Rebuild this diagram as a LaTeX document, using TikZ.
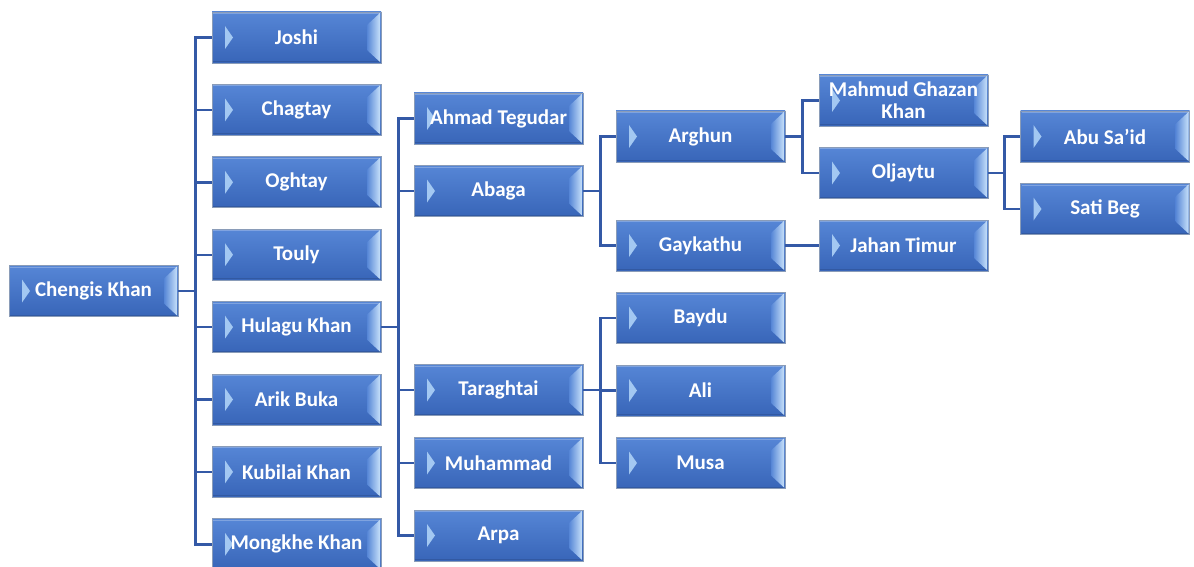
\documentclass[tikz,border=0pt]{standalone}
\usepackage{fontspec}
\setmainfont{Carlito}
\usetikzlibrary{calc}
\definecolor{boxtop}{HTML}{5686D6}
\definecolor{boxbot}{HTML}{3865B8}
\definecolor{boxedge}{HTML}{8A9CB8}
\definecolor{bevelR}{HTML}{C6E0FA}
\definecolor{bevelL}{HTML}{A3C8F2}
\definecolor{linkc}{HTML}{3459A6}
\tikzset{
  box/.style={minimum width=169pt, minimum height=51pt, inner sep=0pt,
    draw=boxedge, line width=0.8pt, top color=boxtop, bottom color=boxbot,
    text=white, align=center, font=\bfseries\fontsize{21}{23}\selectfont,
    path picture={
      \fill[bevelL] ([xshift=13pt,yshift=-14pt]path picture bounding box.north west)
        -- ([xshift=21pt]path picture bounding box.west)
        -- ([xshift=13pt,yshift=14pt]path picture bounding box.south west) -- cycle;
      \shade[left color=boxtop, right color=bevelR]
        ([xshift=-14pt,yshift=-13pt]path picture bounding box.north east)
        -- ([xshift=-1pt,yshift=-1pt]path picture bounding box.north east)
        -- ([xshift=-1pt,yshift=1pt]path picture bounding box.south east)
        -- ([xshift=-14pt,yshift=13pt]path picture bounding box.south east) -- cycle;
      \draw[white, opacity=0.25, line width=1pt]
        ([xshift=1pt,yshift=-1.5pt]path picture bounding box.north west)
        -- ([xshift=-1pt,yshift=-1.5pt]path picture bounding box.north east);
      \draw[black, opacity=0.12, line width=1pt]
        ([xshift=1pt,yshift=1.5pt]path picture bounding box.south west)
        -- ([xshift=-1pt,yshift=1.5pt]path picture bounding box.south east);
    }},
  link/.style={draw=linkc, line width=2.4pt}
}
\begin{document}
\begin{tikzpicture}[x=1pt, y=-1pt]
\useasboundingbox (0,0) rectangle (1194,567);
% column 0
\node[box] (chengis) at (93.5,291) {Chengis Khan};
% column 1
\node[box] (joshi)   at (296.5,37.5)  {Joshi};
\node[box] (chagtay) at (296.5,109.9) {Chagtay};
\node[box] (oghtay)  at (296.5,182.3) {Oghtay};
\node[box] (touly)   at (296.5,254.7) {Touly};
\node[box] (hulagu)  at (296.5,327.1) {Hulagu Khan};
\node[box] (arik)    at (296.5,399.5) {Arik Buka};
\node[box] (kubilai) at (296.5,471.9) {Kubilai Khan};
\node[box] (mongkhe) at (296.5,544.3) {Mongkhe Khan};
% column 2
\node[box] (ahmad)    at (498.5,118.5) {Ahmad Tegudar};
\node[box] (abaga)    at (498.5,191)   {Abaga};
\node[box] (taraghtai) at (498.5,390)  {Taraghtai};
\node[box] (muhammad) at (498.5,463)   {Muhammad};
\node[box] (arpa)     at (498.5,535.5) {Arpa};
% column 3
\node[box] (arghun)   at (700.5,136.5) {Arghun};
\node[box] (gaykathu) at (700.5,245.5) {Gaykathu};
\node[box] (baydu)    at (700.5,318)   {Baydu};
\node[box] (ali)      at (700.5,390.5) {Ali};
\node[box] (musa)     at (700.5,463)   {Musa};
% column 4
\node[box] (mahmud) at (903.5,100.5) {Mahmud Ghazan\\[-1pt]Khan};
\node[box] (oljaytu)  at (903.5,173)   {Oljaytu};
\node[box] (jahan)    at (903.5,245.5) {Jahan Timur};
% column 5
\node[box] (abusaid)  at (1105,136.5)  {Abu Sa’id};
\node[box] (sati)     at (1105,209)    {Sati Beg};
% connectors
\foreach \c in {joshi,chagtay,oghtay,touly,hulagu,arik,kubilai,mongkhe}
  \draw[link] (chengis.east) -- ++(17,0) |- (\c.west);
\foreach \c in {ahmad,abaga,taraghtai,muhammad,arpa}
  \draw[link] (hulagu.east) -- ++(17,0) |- (\c.west);
\foreach \c in {arghun,gaykathu}
  \draw[link] (abaga.east) -- ++(17,0) |- (\c.west);
\foreach \c in {baydu,ali,musa}
  \draw[link] (taraghtai.east) -- ++(17,0) |- (\c.west);
\foreach \c in {mahmud,oljaytu}
  \draw[link] (arghun.east) -- ++(17,0) |- (\c.west);
\draw[link] (gaykathu.east) -- (jahan.west);
\foreach \c in {abusaid,sati}
  \draw[link] (oljaytu.east) -- ++(16,0) |- (\c.west);
\end{tikzpicture}
\end{document}
